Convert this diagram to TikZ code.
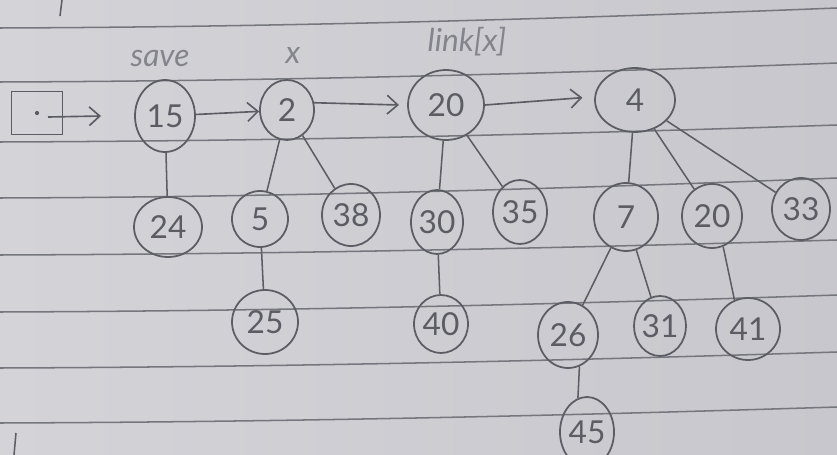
\documentclass[tikz,border=0pt]{standalone}
\usepackage{fontspec}
\setmainfont{Lato}
\usetikzlibrary{shapes.geometric,arrows.meta}
\definecolor{paperL}{RGB}{212,211,216}
\definecolor{paperR}{RGB}{200,199,205}
\definecolor{ruling}{RGB}{118,118,126}
\definecolor{pencil}{RGB}{92,92,100}
\definecolor{faint}{RGB}{132,132,140}
\begin{document}
\begin{tikzpicture}[x=0.03cm,y=-0.03cm,
  key/.style 2 args={ellipse,draw=pencil,line width=1.5pt,inner sep=0pt,
    minimum width=#1*0.06cm,minimum height=#2*0.06cm,
    text=pencil,font=\fontsize{27}{29}\selectfont},
  edge/.style={draw=pencil,line width=1.3pt},
  parr/.style={draw=pencil,line width=1.4pt,
    -{Straight Barb[length=9pt,width=16pt,line width=1.4pt]}},
  tag/.style={text=faint,font=\itshape\fontsize{27}{29}\selectfont},
  ruled/.style={draw=ruling,line width=1.3pt}]
\useasboundingbox (0,0) rectangle (837,455);
\clip (0,0) rectangle (837,455);
% paper and ruled lines
\shade[left color=paperL,right color=paperR] (0,0) rectangle (837,455);
\foreach \l/\r in {28/8,82/63,142/125,198/178,255/240,312/295,368/352,423/407}
  \draw[ruled] (0,\l) .. controls (280,{\l-1}) and (560,{\l-0.45*(\l-\r)}) .. (837,\r);
% stray pencil marks
\draw[edge] (62,0) -- (60,16);
\draw[edge] (16,433) -- (14,455);

% head pointer box
\node[draw=pencil,line width=1.5pt,minimum width=51*0.03cm,minimum height=43*0.03cm] (head) at (37,113) {};
\fill[pencil] (head.center) circle (1.8pt);
\coordinate (hstart) at (48,117);
\coordinate (hend) at (101,116);
\draw[parr] (hstart) -- (hend);

% root list
\node[key={30}{36}] (n15) at (165,116) {15};
\node[key={27}{30}] (n2)  at (287,110) {2};
\node[key={38}{35}] (n20) at (446,105) {20};
\node[key={40}{32}] (n4)  at (635,100) {4};

\node[tag] (lsave) at (160,58) {save};
\node[tag] (lx)    at (293,55) {x};
\node[tag] (llink) at (467,42) {link[x]};

% children
\node[key={34}{30}] (n24) at (168,227) {24};
\node[key={28}{28}] (n5)  at (260,219) {5};
\node[key={29}{31}] (n38) at (351,215) {38};
\node[key={26}{32}] (n30) at (437,222) {30};
\node[key={27}{32}] (n35) at (520,212) {35};
\node[key={33}{32}] (n25) at (265,322) {25};
\node[key={27}{29}] (n40) at (441,324) {40};
\node[key={32}{34}] (n7)  at (626,217) {7};
\node[key={30}{32}] (b20) at (712,216) {20};
\node[key={29}{31}] (n33) at (801,209) {33};
\node[key={30}{33}] (n26) at (568,335) {26};
\node[key={25}{30}] (n31) at (660,326) {31};
\node[key={32}{31}] (n41) at (748,329) {41};
\node[key={27}{35}] (n45) at (587,432) {45};

% sibling pointers
\draw[parr] (n15) -- (n2);
\draw[parr] (n2.15) -- ([xshift=-7pt]n20.west);
\draw[parr] (n20.east) -- ([xshift=-10pt,yshift=2pt]n4.west);

% tree edges
\draw[edge] (n15) -- (n24);
\draw[edge] (n2) -- (n5);
\draw[edge] (n2) -- (n38);
\draw[edge] (n5) -- (n25);
\draw[edge] (n20) -- (n30);
\draw[edge] (n20) -- (n35);
\draw[edge] (n30) -- (n40);
\draw[edge] (n4) -- (n7);
\draw[edge] (n4) -- (b20);
\draw[edge] (n4) -- (n33);
\draw[edge] (n7) -- (n26);
\draw[edge] (n7) -- (n31);
\draw[edge] (b20.-70) -- (n41.115);
\draw[edge] (n26.-70) -- (n45.105);
\end{tikzpicture}
\end{document}
